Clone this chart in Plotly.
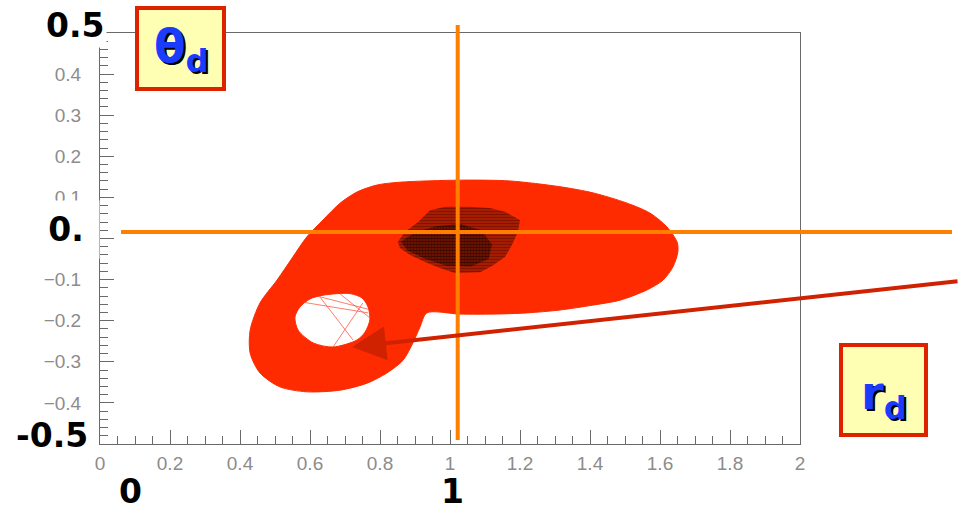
import plotly.graph_objects as go

# ---- data: attractor region in the (r_d, theta_d) plane ----
outer_r = [0.791, 0.857, 1.029, 1.171, 1.314, 1.409, 1.506, 1.571, 1.620, 1.649,
           1.651, 1.637, 1.609, 1.563, 1.486, 1.409, 1.314, 1.220, 1.123, 1.029,
           0.934, 0.914, 0.894, 0.866, 0.820, 0.763, 0.686, 0.591, 0.514, 0.457,
           0.429, 0.429, 0.457, 0.506, 0.551, 0.591, 0.637, 0.686, 0.734]
outer_t = [0.130, 0.137, 0.142, 0.140, 0.126, 0.111, 0.086, 0.062, 0.028, -0.009,
           -0.033, -0.069, -0.101, -0.125, -0.150, -0.162, -0.174, -0.181, -0.184, -0.184,
           -0.181, -0.216, -0.254, -0.296, -0.327, -0.352, -0.369, -0.373, -0.361, -0.327,
           -0.279, -0.223, -0.157, -0.101, -0.045, 0.004, 0.045, 0.086, 0.113]

hole_r = [0.571, 0.600, 0.637, 0.714, 0.749, 0.766, 0.771, 0.757, 0.734, 0.666,
          0.609, 0.566, 0.557]
hole_t = [-0.167, -0.147, -0.138, -0.134, -0.145, -0.167, -0.198, -0.228, -0.247, -0.264,
          -0.254, -0.223, -0.191]

# stray trajectory segments crossing the hole: (r0, t0, r1, t1)
hole_segments = [
    (0.580, -0.155, 0.766, -0.181),
    (0.620, -0.140, 0.766, -0.172),
    (0.666, -0.264, 0.751, -0.157),
    (0.629, -0.143, 0.723, -0.247),
    (0.686, -0.135, 0.771, -0.193),
]

# cloud of black points near the fixed point
cloud_r = [0.851, 0.871, 0.909, 0.943, 0.986, 1.057, 1.114, 1.157, 1.200, 1.194,
           1.177, 1.157, 1.120, 1.086, 1.014, 0.971, 0.929, 0.886, 0.857]
cloud_t = [-0.008, 0.016, 0.040, 0.069, 0.077, 0.077, 0.074, 0.065, 0.045, 0.016,
           -0.016, -0.045, -0.067, -0.082, -0.084, -0.072, -0.057, -0.040, -0.023]
core_r = [0.860, 0.900, 0.960, 1.030, 1.090, 1.120, 1.110, 1.060, 0.990, 0.930, 0.880]
core_t = [-0.008, 0.015, 0.030, 0.035, 0.020, -0.015, -0.050, -0.068, -0.066, -0.050, -0.030]

# crosshair through the fixed point
cross_r = 1.022
cross_t = 0.016

x_ticks = [0, 0.2, 0.4, 0.6, 0.8, 1, 1.2, 1.4, 1.6, 1.8, 2]
x_labels = ["0", "0.2", "0.4", "0.6", "0.8", "1", "1.2", "1.4", "1.6", "1.8", "2"]
y_ticks = [-0.5, -0.4, -0.3, -0.2, -0.1, 0, 0.1, 0.2, 0.3, 0.4, 0.5]
y_labels = ["\u22120.5", "\u22120.4", "\u22120.3", "\u22120.2", "\u22120.1", "0",
            "0.1", "0.2", "0.3", "0.4", "0.5"]

X_RANGE = [0, 2]
Y_RANGE = [-0.5, 0.5]

# ---- page geometry ----
W, H = 959, 513
ML, MR, MT, MB = 100, 159, 33, 69
PW, PH = W - ML - MR, H - MT - MB


def px(xpix):
    return (xpix - ML) / PW


def py(ypix):
    return (H - MB - ypix) / PH


def dx(v):
    return (v - X_RANGE[0]) / (X_RANGE[1] - X_RANGE[0])


def dy(v):
    return (v - Y_RANGE[0]) / (Y_RANGE[1] - Y_RANGE[0])


RED = "#FF2B00"
ORANGE = "#FF8000"
DARKRED = "#D02200"
GRAY = "#6a6a6a"

fig = go.Figure()

# filled attractor with the hole cut out (opposite winding)
fig.add_trace(go.Scatter(
    x=outer_r + [outer_r[0], None] + hole_r[::-1] + [hole_r[-1]],
    y=outer_t + [outer_t[0], None] + hole_t[::-1] + [hole_t[-1]],
    mode="lines", fill="toself", fillcolor=RED,
    line=dict(color=RED, width=1, shape="spline", smoothing=0.8),
    hoverinfo="skip", showlegend=False,
))

seg_x, seg_y = [], []
for r0, t0, r1, t1 in hole_segments:
    seg_x += [r0, r1, None]
    seg_y += [t0, t1, None]
fig.add_trace(go.Scatter(
    x=seg_x, y=seg_y, mode="lines",
    line=dict(color="rgba(255,70,50,0.7)", width=1),
    hoverinfo="skip", showlegend=False,
))

# black point cloud: sparse rows plus dense core
fig.add_trace(go.Scatter(
    x=cloud_r + [cloud_r[0]], y=cloud_t + [cloud_t[0]],
    mode="none", fill="toself", fillcolor="rgba(0,0,0,0)",
    fillpattern=dict(shape="-", fgcolor="black", bgcolor="rgba(0,0,0,0)",
                     size=3, solidity=0.8),
    hoverinfo="skip", showlegend=False,
))
fig.add_trace(go.Scatter(
    x=core_r + [core_r[0]], y=core_t + [core_t[0]],
    mode="none", fill="toself", fillcolor="rgba(0,0,0,0.85)",
    fillpattern=dict(shape="+", fgcolor="black", bgcolor="rgba(0,0,0,0)",
                     size=3, solidity=0.85),
    hoverinfo="skip", showlegend=False,
))

axis_common = dict(
    showgrid=False, zeroline=False, showline=True, linecolor=GRAY, linewidth=1,
    mirror=True, ticks="inside", ticklen=14, tickcolor=GRAY, tickwidth=1,
    tickfont=dict(family="Liberation Sans", size=19, color="#8c8c8c"),
)
fig.update_xaxes(range=X_RANGE, tickvals=x_ticks, ticktext=x_labels,
                 minor=dict(ticks="inside", dtick=0.05, ticklen=8, tickcolor=GRAY),
                 ticklabelstandoff=2, **axis_common)
fig.update_yaxes(range=Y_RANGE, tickvals=y_ticks, ticktext=y_labels,
                 minor=dict(ticks="inside", dtick=0.02, ticklen=8, tickcolor=GRAY),
                 ticklabelstandoff=14, **axis_common)

shapes = [
    # crosshair
    dict(type="line", xref="paper", yref="paper", x0=dx(cross_r), x1=dx(cross_r),
         y0=py(25), y1=py(440), line=dict(color=ORANGE, width=4), layer="above"),
    dict(type="line", xref="paper", yref="paper", x0=px(121), x1=px(952),
         y0=dy(cross_t), y1=dy(cross_t), line=dict(color=ORANGE, width=4), layer="above"),
    # label boxes
    dict(type="rect", xref="paper", yref="paper", x0=px(137), x1=px(224),
         y0=py(8), y1=py(89), fillcolor="#FFFFB4", line=dict(color="#DD2200", width=4),
         layer="above"),
    dict(type="rect", xref="paper", yref="paper", x0=px(841), x1=px(926),
         y0=py(345), y1=py(435), fillcolor="#FFFFB4", line=dict(color="#DD2200", width=4),
         layer="above"),
]

big = dict(family="DejaVu Sans", size=33, color="black", weight="bold")
sym = dict(family="DejaVu Sans", size=46, color="#1A3CFF", weight="bold",
           shadow="2px 2px 0px #000")

annotations = [
    dict(text="0.5", x=px(75), y=py(25), font=big, bgcolor="white", borderpad=2),
    dict(text="0.", x=px(66), y=py(229), font=big, bgcolor="white", borderpad=9,
         width=48),
    dict(text="-0.5", x=px(52), y=py(435), font=big, bgcolor="white", borderpad=2),
    dict(text="0", x=px(130), y=py(513), font=big, yanchor="bottom"),
    dict(text="1", x=px(452), y=py(513), font=big, yanchor="bottom"),
    dict(text="\u03b8<sub>d</sub>", x=px(181), y=py(50), font=sym),
    dict(text="r<sub>d</sub>", x=px(884), y=py(396), font=sym),
    # arrow pointing at the hole
    dict(text="", x=px(352), y=py(347), ax=959 - 352, ay=281 - 347,
         showarrow=True, arrowhead=2, arrowsize=1.7, arrowwidth=4, arrowcolor=DARKRED),
]
for a in annotations:
    a.setdefault("xref", "paper")
    a.setdefault("yref", "paper")
    a.setdefault("showarrow", False)
    a.setdefault("xanchor", "center")
    a.setdefault("yanchor", "middle")

fig.update_layout(
    width=W, height=H, autosize=False,
    margin=dict(l=ML, r=MR, t=MT, b=MB, pad=0),
    paper_bgcolor="white", plot_bgcolor="white",
    shapes=shapes, annotations=annotations, showlegend=False,
)

fig.write_html("out.html")
